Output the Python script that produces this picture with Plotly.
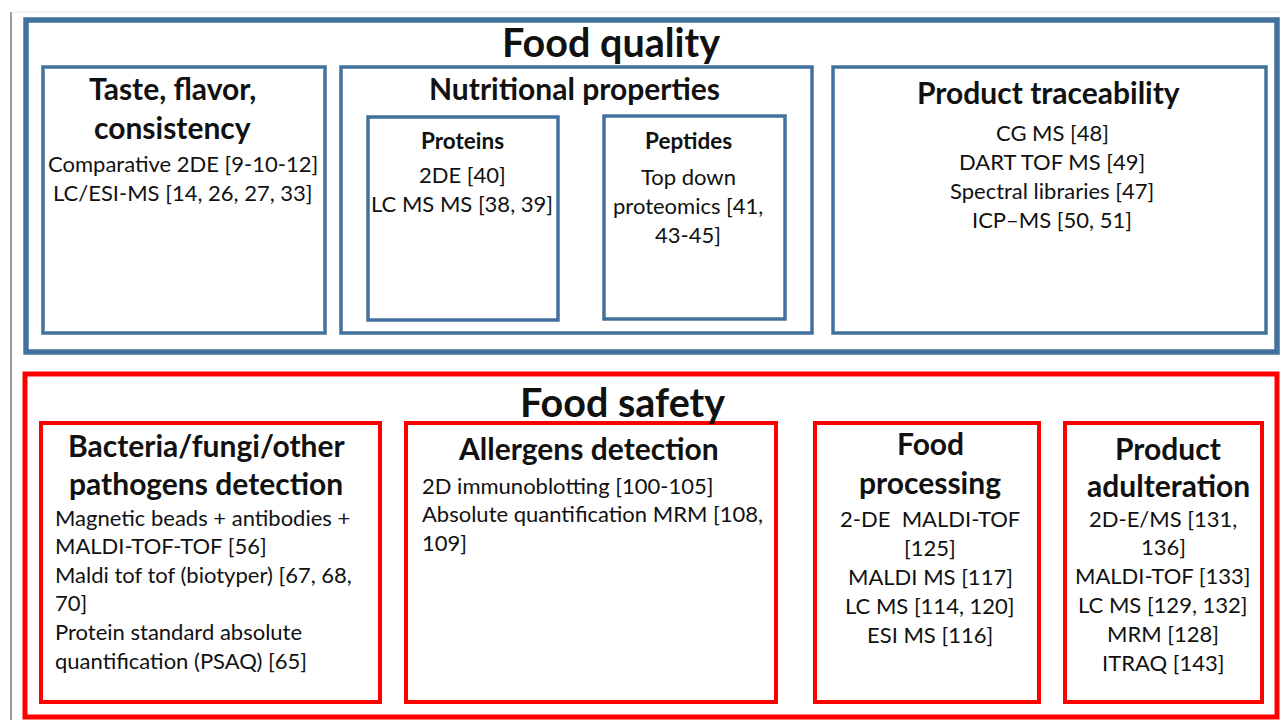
import plotly.graph_objects as go

FONT = "Lato"
INK = "#111111"
BLUE = "#41719C"
RED = "#FF0000"

# ---- text content ----
section_titles = ["Food quality", "Food safety"]

taste_title = ["Taste, flavor,", "consistency"]
taste_items = ["Comparative 2DE [9-10-12]", "LC/ESI-MS [14, 26, 27, 33]"]

nutrition_title = ["Nutritional properties"]
proteins_title = ["Proteins"]
proteins_items = ["2DE [40]", "LC MS MS [38, 39]"]
peptides_title = ["Peptides"]
peptides_items = ["Top down", "proteomics [41,", "43-45]"]

trace_title = ["Product traceability"]
trace_items = ["CG MS [48]", "DART TOF MS [49]", "Spectral libraries [47]", "ICP\u2013MS [50, 51]"]

bacteria_title = ["Bacteria/fungi/other", "pathogens detection"]
bacteria_items = ["Magnetic beads + antibodies +", "MALDI-TOF-TOF [56]",
                  "Maldi tof tof (biotyper) [67, 68,", "70]",
                  "Protein standard absolute", "quantification (PSAQ) [65]"]

allergen_title = ["Allergens detection"]
allergen_items = ["2D immunoblotting [100-105]", "Absolute quantification MRM [108,", "109]"]

processing_title = ["Food", "processing"]
processing_items = ["2-DE  MALDI-TOF", "[125]", "MALDI MS [117]", "LC MS [114, 120]", "ESI MS [116]"]

adulteration_title = ["Product", "adulteration"]
adulteration_items = ["2D-E/MS [131,", "136]", "MALDI-TOF [133]", "LC MS [129, 132]", "MRM [128]", "ITRAQ [143]"]

fig = go.Figure()
shapes = []
annotations = []


def box(x0, y0, x1, y1, color, w):
    shapes.append(dict(type="rect", xref="x", yref="y", x0=x0, y0=y0, x1=x1, y1=y1,
                       line=dict(color=color, width=w), fillcolor="rgba(0,0,0,0)", layer="above"))


def lines(texts, x, y0, dy, size, bold=False, anchor="center"):
    for i, t in enumerate(texts):
        txt = f"<b>{t}</b>" if bold else t
        annotations.append(dict(x=x, y=y0 + i * dy, xref="x", yref="y", text=txt,
                                showarrow=False, xanchor=anchor, yanchor="middle",
                                font=dict(family=FONT, size=size, color=INK)))


# frame lines at page edge
shapes.append(dict(type="line", x0=11, y0=12, x1=11, y1=720, xref="x", yref="y",
                   line=dict(color="#9a9a9a", width=2)))
shapes.append(dict(type="line", x0=11, y0=12, x1=1280, y1=12, xref="x", yref="y",
                   line=dict(color="#e6e6e6", width=1)))

# Food quality
box(26, 20, 1277, 352, BLUE, 5.5)
box(43, 67, 325, 333, BLUE, 3.5)
box(341, 67, 812, 333, BLUE, 3.5)
box(368, 117, 558, 320, BLUE, 3.5)
box(604, 116, 785, 319, BLUE, 3.5)
box(833, 67, 1266, 333, BLUE, 3.5)

# Food safety
box(25, 374, 1277, 717, RED, 5)
box(41, 423, 380, 702, RED, 4)
box(406, 423, 776, 702, RED, 4)
box(815, 423, 1039, 702, RED, 4)
box(1065, 423, 1262, 702, RED, 4)

H1 = 39.5
H2 = 30
H3 = 22.5
BODY = 22
LH = 29

lines([section_titles[0]], 611, 41, 0, H1, bold=True)
lines(taste_title, 172, 88, 39, H2, bold=True)
lines(taste_items, 183, 163, LH, BODY)
lines(nutrition_title, 574, 88, 0, H2, bold=True)
lines(proteins_title, 462, 140, 0, H3, bold=True)
lines(proteins_items, 462, 174, LH, BODY)
lines(peptides_title, 688, 140, 0, H3, bold=True)
lines(peptides_items, 688, 176, LH, BODY)
lines(trace_title, 1048, 92, 0, H2, bold=True)
lines(trace_items, 1052, 132, LH, BODY)

lines([section_titles[1]], 622, 401, 0, H1, bold=True)
lines(bacteria_title, 206, 445, 38, H2, bold=True)
lines(bacteria_items, 53, 517, 28.6, BODY, anchor="left")
lines(allergen_title, 588, 448, 0, H2, bold=True)
lines(allergen_items, 420, 485, 28.5, BODY, anchor="left")
lines(processing_title, 930, 443, 39, H2, bold=True)
lines(processing_items, 930, 518, LH, BODY)
lines(adulteration_title, 1168, 448, 37, H2, bold=True)
lines(adulteration_items, 1163, 518, 28.8, BODY)

fig.update_layout(
    width=1280, height=720,
    margin=dict(l=0, r=0, t=0, b=0),
    paper_bgcolor="white", plot_bgcolor="white",
    xaxis=dict(range=[0, 1280], visible=False, fixedrange=True),
    yaxis=dict(range=[720, 0], visible=False, fixedrange=True),
    shapes=shapes, annotations=annotations, showlegend=False,
)
# Remove the default page margin so the 1280x720 figure fills the window exactly.
fig.write_html(
    "out.html",
    config={"displayModeBar": False},
    post_script="document.body.style.margin='0px';document.body.style.overflow='hidden';",
)
